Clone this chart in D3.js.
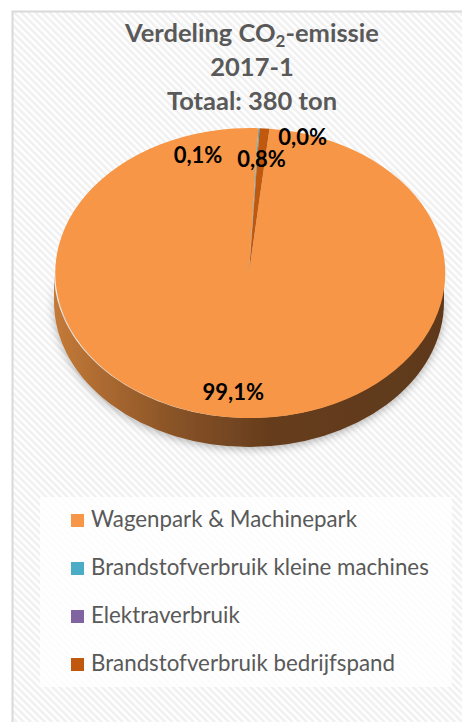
<!DOCTYPE html>
<html>
<head>
<meta charset="utf-8">
<script src="https://cdn.jsdelivr.net/npm/d3@7"></script>
<style>
  html, body { margin: 0; padding: 0; background: #fff; }
  svg { display: block; }
  text { font-family: Lato, "Noto Sans", sans-serif; }
</style>
</head>
<body>
<div id="chart"></div>
<script>
// data
const categories = [
  'Wagenpark & Machinepark',
  'Brandstofverbruik kleine machines',
  'Elektraverbruik',
  'Brandstofverbruik bedrijfspand'
];
const shares = [99.1, 0.1, 0.0, 0.8];
const labels = ['99,1%', '0,1%', '0,0%', '0,8%'];
const colors = ['#F79646', '#4BACC6', '#8064A2', '#C0590E'];
const titleLines = ['Verdeling CO', '2017-1', 'Totaal: 380 ton'];

// dimensions
const WIDTH = 462;
const HEIGHT = 722;
const CX = 249;
const CY = 273;
const RX = 195;
const RY = 145;
const DEPTH = 29;
const START = 6 * Math.PI / 180;

// label nudges (px) from the slice's rim point, for the small slices
const labelNudge = [null, [-61, 35], [43, 17], [-3, 39]];

const $svg = d3.select('#chart').append('svg')
  .attr('width', WIDTH)
  .attr('height', HEIGHT);

const $defs = $svg.append('defs');

const $hatch = $defs.append('pattern')
  .attr('id', 'hatch')
  .attr('patternUnits', 'userSpaceOnUse')
  .attr('width', 5)
  .attr('height', 5)
  .attr('patternTransform', 'rotate(-45)');
$hatch.append('rect').attr('width', 5).attr('height', 5).attr('fill', '#fff');
$hatch.append('rect').attr('width', 2.5).attr('height', 5).attr('fill', '#f0f0f0');

const $side = $defs.append('linearGradient')
  .attr('id', 'side')
  .attr('x1', 0).attr('x2', 1).attr('y1', 0).attr('y2', 0);
$side.append('stop').attr('offset', '0%').attr('stop-color', '#c47a38');
$side.append('stop').attr('offset', '30%').attr('stop-color', '#8a5427');
$side.append('stop').attr('offset', '55%').attr('stop-color', '#663d1d');
$side.append('stop').attr('offset', '100%').attr('stop-color', '#5e391b');

const $shadow = $defs.append('filter')
  .attr('id', 'shadow')
  .attr('x', '-10%').attr('y', '-10%').attr('width', '120%').attr('height', '130%');
$shadow.append('feDropShadow')
  .attr('dx', 0).attr('dy', 2)
  .attr('stdDeviation', 4)
  .attr('flood-color', '#000')
  .attr('flood-opacity', 0.3);

// background + frame
$svg.append('rect')
  .attr('x', 12).attr('y', 11)
  .attr('width', WIDTH).attr('height', HEIGHT)
  .attr('fill', 'url(#hatch)');
$svg.append('path')
  .attr('d', `M12.5,${HEIGHT}V11.5H${WIDTH}`)
  .attr('fill', 'none')
  .attr('stroke', '#d9d9d9')
  .attr('stroke-width', 2);

// title
const $title = $svg.append('text')
  .attr('text-anchor', 'middle')
  .attr('fill', '#595959')
  .attr('font-weight', 'bold')
  .attr('font-size', 25.5);
const $t1 = $title.append('tspan').attr('x', 252).attr('y', 42);
$t1.append('tspan').text(titleLines[0]);
$t1.append('tspan').attr('font-size', 17).attr('dy', 5).text('2');
$t1.append('tspan').attr('dy', -5).text('-emissie');
$title.append('tspan').attr('x', 252).attr('y', 76).text(titleLines[1]);
$title.append('tspan').attr('x', 252).attr('y', 110).text(titleLines[2]);

// pie
const pie = d3.pie().sort(null).value(d => d)
  .startAngle(START).endAngle(START + 2 * Math.PI);
const arcs = pie(shares);
const arc = d3.arc().innerRadius(0).outerRadius(1);

const $vis = $svg.append('g').attr('class', 'g-vis');

// side wall (front half is all the big slice)
$vis.append('path')
  .attr('d', `M${CX + RX},${CY} A${RX},${RY} 0 0 1 ${CX - RX},${CY} L${CX - RX},${CY + DEPTH} A${RX},${RY} 0 0 0 ${CX + RX},${CY + DEPTH} Z`)
  .attr('fill', 'url(#side)')
  .attr('filter', 'url(#shadow)');

$vis.append('g')
  .attr('transform', `translate(${CX},${CY}) scale(${RX},${RY})`)
  .selectAll('path')
  .data(arcs)
  .join('path')
  .attr('d', arc)
  .attr('fill', (d, i) => colors[i]);

// data labels
const rimPoint = a => [CX + RX * Math.sin(a), CY - RY * Math.cos(a)];
$vis.append('g')
  .selectAll('text')
  .data(arcs)
  .join('text')
  .attr('text-anchor', 'middle')
  .attr('font-weight', 'bold')
  .attr('font-size', 22)
  .attr('fill', '#000')
  .attr('x', (d, i) => {
    const mid = (d.startAngle + d.endAngle) / 2;
    if (!labelNudge[i]) return CX + 0.85 * RX * Math.sin(mid) - 3;
    return rimPoint(mid)[0] + labelNudge[i][0];
  })
  .attr('y', (d, i) => {
    const mid = (d.startAngle + d.endAngle) / 2;
    if (!labelNudge[i]) return CY - 0.85 * RY * Math.cos(mid) + 4;
    return rimPoint(mid)[1] + labelNudge[i][1];
  })
  .text((d, i) => labels[i]);

// legend
const $legend = $svg.append('g').attr('transform', 'translate(40,497)');
$legend.append('rect')
  .attr('width', 412).attr('height', 190)
  .attr('fill', '#fff').attr('fill-opacity', 0.8);
const $items = $legend.selectAll('g.item')
  .data(categories)
  .join('g')
  .attr('class', 'item')
  .attr('transform', (d, i) => `translate(31,${30 + i * 48})`);
$items.append('rect')
  .attr('y', -13).attr('width', 13).attr('height', 13)
  .attr('fill', (d, i) => colors[i]);
$items.append('text')
  .attr('x', 20)
  .attr('font-size', 22.3)
  .attr('fill', '#595959')
  .text(d => d);
</script>
</body>
</html>
